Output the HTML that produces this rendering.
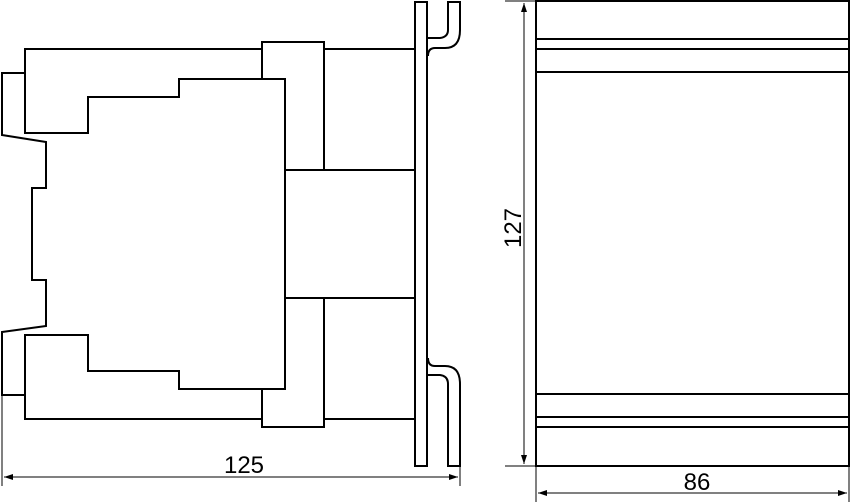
<!DOCTYPE html>
<html><head><style>body{margin:0;background:#fff}svg{display:block}</style></head><body>
<svg width="852" height="504" viewBox="0 0 852 504" xmlns="http://www.w3.org/2000/svg" font-family="Liberation Sans, sans-serif">
<defs><marker id="a" markerWidth="10" markerHeight="8" refX="9" refY="4" orient="auto-start-reverse" markerUnits="userSpaceOnUse"><path d="M0,1 L9,4 L0,7 Z" fill="#000"/></marker></defs>
<g fill="none" stroke="#000" stroke-width="2" stroke-linejoin="miter">
<path d="M262,49 H25 V133 H88 V97 H179 V79 H262"/>
<path d="M262,79 V42 H324 V170"/>
<path d="M324,49 H415"/>
<path d="M179,79 H285 V389 H179 V371 H88 V335 H25 V419 H262"/>
<path d="M262,389 V427 H324 V298"/>
<path d="M324,419 H415"/>
<rect x="285" y="170" width="130" height="128"/>
<path d="M25,73 H2 V135 L46,142 V188 H32 V280 H46 V326 L2,332 V395 H25"/>
<rect x="415" y="2" width="12" height="464"/>
<path d="M427,38 H440 Q448,37 448,30 V2 H460 V30 Q460,48 445,48 H435 Q428,48 428,56"/>
<path d="M427,375 H440 Q448,376 448,384 V466 H460 V384 Q460,366 445,366 H435 Q428,366 428,358"/>
<rect x="536" y="1" width="313" height="465"/>
<path d="M536,39 H849 M536,49 H849 M536,72 H849 M536,394 H849 M536,417 H849 M536,427 H849"/>
</g>
<g stroke="#000" stroke-width="1" fill="none">
<path d="M2,395 V486 M460,466 V486"/>
<path d="M4,477 H458" marker-start="url(#a)" marker-end="url(#a)"/>
<path d="M505,1 H536 M505,466 H536"/>
<path d="M524,3 V464" marker-start="url(#a)" marker-end="url(#a)"/>
<path d="M536,466 V502 M849,466 V502"/>
<path d="M538,493 H847" marker-start="url(#a)" marker-end="url(#a)"/>
</g>
<text x="244" y="473" font-size="24" text-anchor="middle">125</text>
<text x="697" y="490" font-size="24" text-anchor="middle">86</text>
<text transform="translate(521,228) rotate(-90)" font-size="24" text-anchor="middle">127</text>
</svg>
</body></html>
